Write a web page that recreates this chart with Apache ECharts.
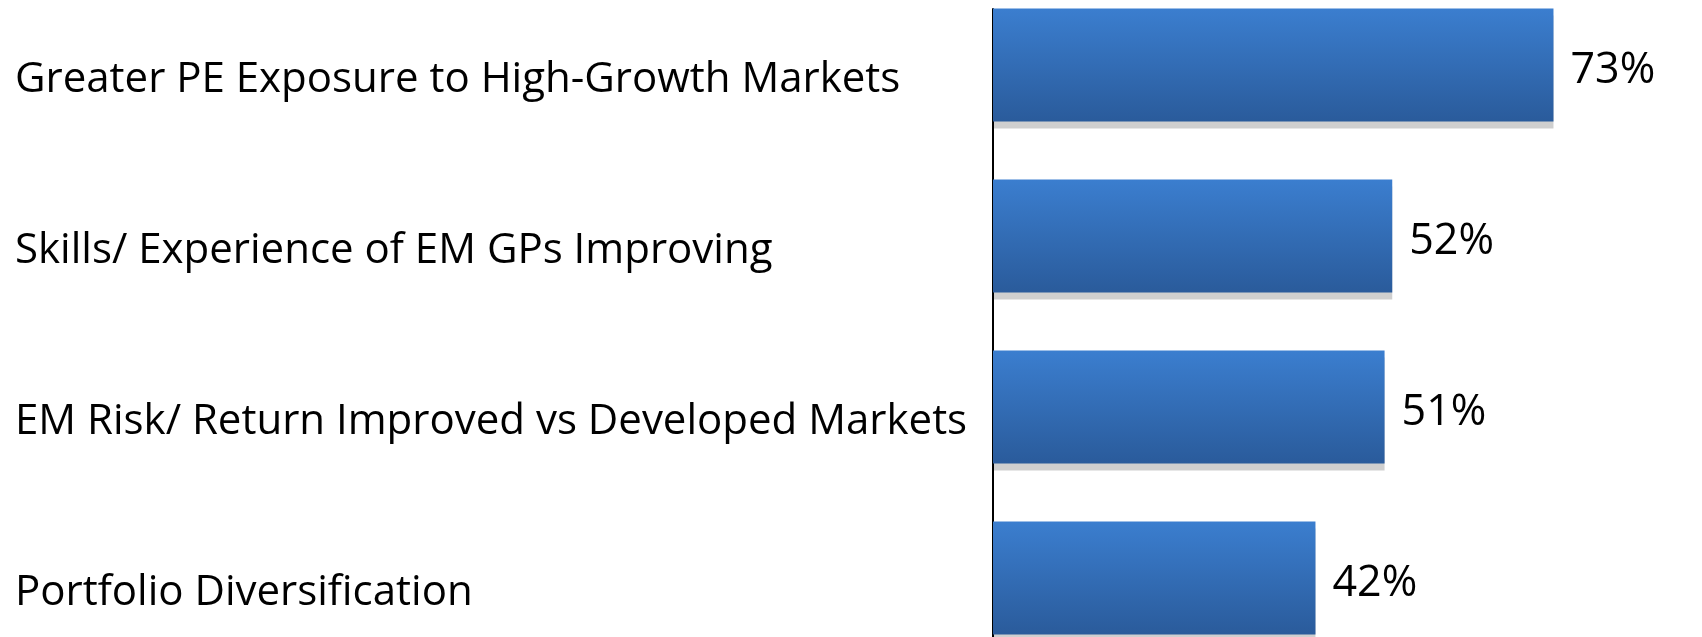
<!DOCTYPE html>
<html>
<head>
<meta charset="utf-8">
<script src="https://cdn.jsdelivr.net/npm/echarts@6/dist/echarts.min.js"></script>
<style>
  html, body { margin: 0; padding: 0; background: #fff; }
  #chart { width: 1702px; height: 637px; }
</style>
</head>
<body>
<div id="chart"></div>
<script>
// Reasons for investing in emerging-market private equity (share of respondents)
const categories = [
  'Greater PE Exposure to High-Growth Markets',
  'Skills/ Experience of EM GPs Improving',
  'EM Risk/ Return Improved vs Developed Markets',
  'Portfolio Diversification'
];
const values = [73, 52, 51, 42];

const FONT = 'Open Sans';
const chart = echarts.init(document.getElementById('chart'), null, { renderer: 'canvas' });

chart.setOption({
  animation: false,
  backgroundColor: '#ffffff',
  grid: [
    // bars and labels
    { left: 993, right: 18, top: 65, bottom: 59, containLabel: false },
    // full-height vertical baseline behind the bars
    { left: 993, right: 18, top: 9, bottom: 0, containLabel: false }
  ],
  xAxis: [
    { type: 'value', gridIndex: 0, min: 0, max: 90, show: false },
    { type: 'value', gridIndex: 1, min: 0, max: 90, show: false }
  ],
  yAxis: [
    {
      type: 'category',
      gridIndex: 0,
      data: categories,
      inverse: true,
      boundaryGap: false,
      axisLine: { show: false },
      axisTick: { show: false },
      splitLine: { show: false },
      axisLabel: {
        align: 'left',
        verticalAlign: 'top',
        lineHeight: 30,
        margin: 978,
        color: '#000000',
        fontFamily: FONT,
        fontSize: 42
      },
      z: 3
    },
    {
      type: 'category',
      gridIndex: 1,
      data: categories,
      axisLine: { show: true, lineStyle: { color: '#000000', width: 2 } },
      axisTick: { show: false },
      axisLabel: { show: false },
      splitLine: { show: false },
      z: 0
    }
  ],
  series: [{
    type: 'bar',
    xAxisIndex: 0,
    yAxisIndex: 0,
    data: values,
    barWidth: 113,
    z: 5,
    itemStyle: {
      color: new echarts.graphic.LinearGradient(0, 0, 0, 1, [
        { offset: 0, color: '#3b7ecf' },
        { offset: 1, color: '#2a5b9b' }
      ]),
      borderWidth: 0,
      shadowColor: 'rgba(0,0,0,0.19)',
      shadowOffsetY: 7,
      shadowOffsetX: 0,
      shadowBlur: 0
    },
    label: {
      show: true,
      position: 'right',
      distance: 17,
      offset: [0, 6],
      formatter: '{c}%',
      color: '#000000',
      fontFamily: FONT,
      fontSize: 43
    }
  }]
});
</script>
</body>
</html>
